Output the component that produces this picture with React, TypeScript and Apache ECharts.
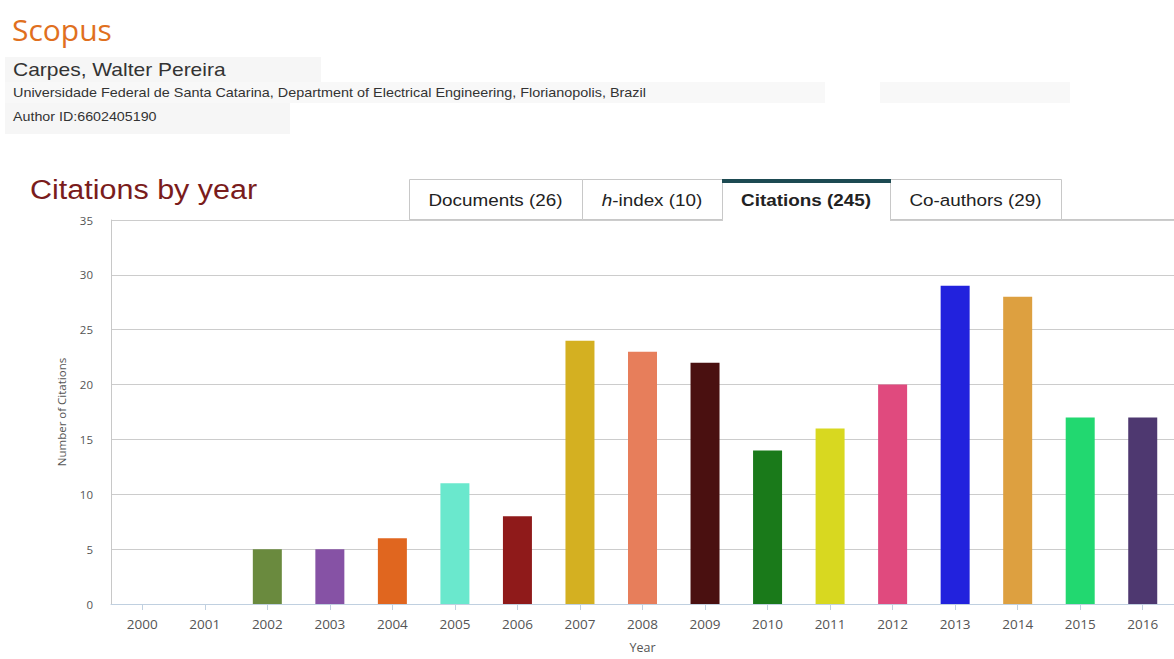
import React, { useEffect, useRef } from "react";
import * as echarts from "echarts";

const years = ["2000","2001","2002","2003","2004","2005","2006","2007","2008","2009","2010","2011","2012","2013","2014","2015","2016"];
const citations = [0,0,5,5,6,11,8,24,23,22,14,16,20,29,28,17,17];
const barColors = ["#7cb5ec","#434348","#6a8a3e","#8652a5","#e0661f","#6ae8cd","#8f1a1a","#d4b021","#e77e5b","#4a1010","#1a7a1a","#d8d820","#e04a7e","#2222dd","#dda040","#22d870","#4e3870"];
const yTicks = { min: 0, max: 35, interval: 5 };
const tabs = [
  { label: "Documents (26)", x0: 409, x1: 582, active: false },
  { label: "{i|h}-index (10)", x0: 582, x1: 722, active: false },
  { label: "Citations (245)", x0: 722, x1: 890, active: true },
  { label: "Co-authors (29)", x0: 890, x1: 1061, active: false },
];

export default function App() {
  const ref = useRef<HTMLDivElement>(null);
  useEffect(() => {
    if (!ref.current) return;
    const chart = echarts.init(ref.current, null, { renderer: "svg" });
    const tabEls: any[] = [];
    tabs.forEach((t) => {
      tabEls.push({
        type: "rect",
        shape: { x: t.x0 + 0.5, y: 179.5, width: t.x1 - t.x0, height: 40 },
        style: { fill: "#fff", stroke: "#c8c8c8", lineWidth: 1 },
        z: 1,
      });
      if (t.active) {
        tabEls.push({
          type: "rect",
          shape: { x: t.x0 + 1, y: 219, width: t.x1 - t.x0 - 1, height: 2 },
          style: { fill: "#fff" },
          z: 2,
        });
        tabEls.push({
          type: "rect",
          shape: { x: t.x0, y: 179, width: t.x1 - t.x0 + 1, height: 4 },
          style: { fill: "#1d4a52" },
          z: 3,
        });
      }
      tabEls.push({
        type: "text",
        x: (t.x0 + t.x1) / 2,
        y: 200,
        scaleX: 1.11,
        z: 3,
        style: {
          text: t.label,
          fill: "#222",
          font: (t.active ? "bold " : "") + "17px 'Liberation Sans', Arial, sans-serif",
          align: "center",
          verticalAlign: "middle",
          rich: { i: { fontStyle: "italic", fontSize: 17, fontFamily: "'Liberation Sans', Arial, sans-serif", fill: "#222" } },
        },
      });
    });
    chart.setOption({
      animation: false,
      backgroundColor: "#fff",
      grid: { left: 111, right: -2, top: 220, bottom: 50, containLabel: false },
      xAxis: {
        type: "category",
        data: years,
        name: "Year",
        nameLocation: "middle",
        nameGap: 37,
        nameTextStyle: { fontFamily: "'Open Sans', sans-serif", fontSize: 12.5, color: "#555" },
        axisLine: { show: true, lineStyle: { color: "#c0d0e0" } },
        axisTick: { show: true, alignWithLabel: true, length: 6, lineStyle: { color: "#c0d0e0" } },
        axisLabel: { margin: 13, fontFamily: "'Open Sans', sans-serif", fontSize: 13.5, color: "#555" },
      },
      yAxis: {
        type: "value",
        min: yTicks.min,
        max: yTicks.max,
        interval: yTicks.interval,
        name: "Number of Citations",
        nameLocation: "middle",
        nameGap: 44,
        nameTextStyle: { fontFamily: "'Open Sans', sans-serif", fontSize: 11.5, color: "#555" },
        axisLine: { show: true, lineStyle: { color: "#c8c8c8" } },
        axisTick: { show: false },
        axisLabel: { margin: 18, fontFamily: "'Open Sans', sans-serif", fontSize: 11.5, color: "#555" },
        splitLine: { lineStyle: { color: "#cccccc" } },
      },
      series: [
        {
          type: "bar",
          barWidth: 29,
          data: citations.map((v, i) => ({ value: v, itemStyle: { color: barColors[i] } })),
        },
      ],
      graphic: [
        { type: "rect", shape: { x: 5, y: 57, width: 316, height: 25 }, style: { fill: "#f6f6f6" } },
        { type: "rect", shape: { x: 5, y: 82, width: 820, height: 21 }, style: { fill: "#f8f8f8" } },
        { type: "rect", shape: { x: 880, y: 82, width: 190, height: 21 }, style: { fill: "#f8f8f8" } },
        { type: "rect", shape: { x: 5, y: 103, width: 285, height: 31 }, style: { fill: "#f6f6f6" } },
        {
          type: "text", x: 12, y: 29,
          style: { text: "Scopus", fill: "#e0701e", font: "30px 'Open Sans', sans-serif", verticalAlign: "middle" },
        },
        {
          type: "text", x: 13, y: 70, scaleX: 1.2,
          style: { text: "Carpes, Walter Pereira", fill: "#333", font: "17.5px 'Liberation Sans', Arial, sans-serif", verticalAlign: "middle" },
        },
        {
          type: "text", x: 13, y: 93, scaleX: 1.2,
          style: { text: "Universidade Federal de Santa Catarina, Department of Electrical Engineering, Florianopolis, Brazil", fill: "#333", font: "12px 'Liberation Sans', Arial, sans-serif", verticalAlign: "middle" },
        },
        {
          type: "text", x: 13, y: 117, scaleX: 1.19,
          style: { text: "Author ID:6602405190", fill: "#333", font: "12px 'Liberation Sans', Arial, sans-serif", verticalAlign: "middle" },
        },
        {
          type: "text", x: 30, y: 190, scaleX: 1.13,
          style: { text: "Citations by year", fill: "#7a1c1c", font: "27px 'Liberation Sans', Arial, sans-serif", verticalAlign: "middle" },
        },
        { type: "line", shape: { x1: 409, y1: 219.5, x2: 1174, y2: 219.5 }, style: { stroke: "#c8c8c8", lineWidth: 1 }, z: 0 },
        ...tabEls,
      ],
    });
    return () => chart.dispose();
  }, []);
  return (
    <div
      ref={ref}
      style={{ position: "fixed", left: 0, top: 0, width: 1174, height: 659 }}
    />
  );
}
